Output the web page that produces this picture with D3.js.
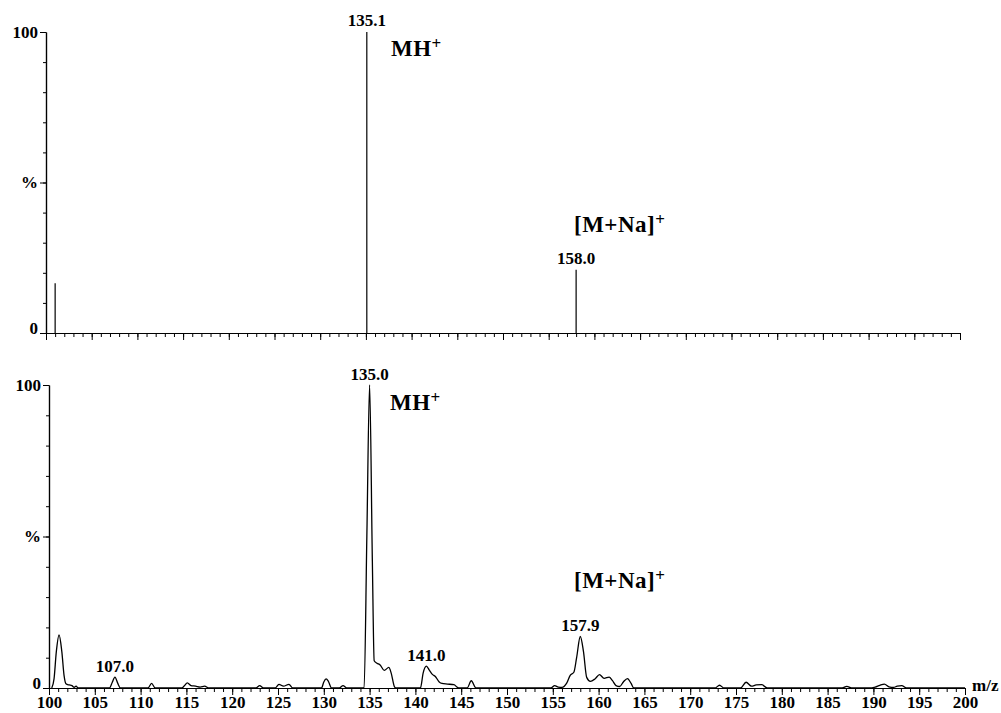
<!DOCTYPE html>
<html>
<head>
<meta charset="utf-8">
<script src="https://cdn.jsdelivr.net/npm/d3@7"></script>
<style>
  body { margin: 0; background: #fff; }
  svg text { font-family: "Liberation Serif", "Times New Roman", serif; fill: #000; }
</style>
</head>
<body>
<div id="wrapper"></div>
<script>
const width = 1001, height = 713;

// top panel: centroid (stick) spectrum
const stickMz  = [101.0, 135.1, 158.0];
const stickPct = [16.5, 100, 21];
const stickLabelMz   = [135.1, 158.0];
const stickLabelText = ["135.1", "158.0"];

// bottom panel: profile spectrum
const profileMz = [
  100.3, 100.55, 100.8, 101.1, 101.4, 101.65, 101.85, 102.2, 102.5, 102.75, 102.95, 103.2,
  106.6, 106.9, 107.2, 107.5, 107.8,
  110.8, 111.2, 111.6,
  114.5, 114.8, 115.1, 115.5, 116.0, 116.5, 117.0, 117.4,
  122.6, 123.0, 123.4,
  124.7, 125.1, 125.6, 126.2, 126.6,
  129.75, 130.0, 130.25, 130.5, 130.85,
  131.7, 132.1, 132.5,
  134.4, 134.7, 135.0, 135.3, 135.5, 135.8, 136.15, 136.6, 137.1, 137.35, 137.7, 137.85,
  140.55, 140.85, 141.2, 141.5, 141.85, 142.15, 142.6, 142.9, 143.5, 144.2, 144.6, 144.8,
  145.65, 146.1, 146.6,
  154.8, 155.2, 155.6, 156.0, 156.5, 156.9, 157.3, 157.6, 158.0, 158.35, 158.7, 159.1,
  159.6, 160.1, 160.6, 161.15, 161.5, 161.9, 162.3, 162.7, 163.15, 163.55, 163.85,
  172.7, 173.2, 173.7,
  175.5, 176.1, 176.7, 177.2, 177.8, 178.4,
  186.6, 187.1, 187.6,
  189.5, 190.2, 190.7, 191.2, 191.7, 192.2, 192.6, 193.1, 193.6,
  200.0
];
const profilePct = [
  0, 3, 12, 17.5, 12, 4, 1.4, 1.0, 0.8, 0.2, 0.6, 0,
  0, 1.8, 3.6, 1.6, 0,
  0, 1.5, 0,
  0, 0.8, 1.7, 0.8, 0.6, 0.3, 0.6, 0,
  0, 0.8, 0,
  0, 1.2, 0.6, 1.2, 0,
  0, 2.0, 3.0, 2.2, 0,
  0, 0.8, 0,
  0, 50, 100, 42, 9, 8.2, 7.6, 5.8, 6.8, 5, 0.5, 0,
  0, 5, 7.2, 6, 4.5, 3.9, 2, 1.5, 1.3, 1.1, 0.2, 0,
  0, 2.4, 0,
  0, 0.8, 0.3, 0.2, 1.5, 4.2, 5.2, 10, 17, 12, 3.5, 2.2,
  3, 4.4, 3.2, 3.6, 2.5, 0.8, 0.5, 2, 3.1, 1.5, 0,
  0, 0.9, 0,
  0, 1.9, 0.6, 1.0, 1.1, 0,
  0, 0.55, 0,
  0, 0.3, 0.9, 1.3, 0.4, 0.2, 0.6, 0.8, 0,
  0
];
const profileLabelMz   = [107.2, 135.0, 141.2, 158.0];
const profileLabelPct  = [3.6, 100, 7.2, 17];
const profileLabelText = ["107.0", "135.0", "141.0", "157.9"];

const xTop = d3.scaleLinear().domain([100, 200]).range([46, 960]),
      yTop = d3.scaleLinear().domain([0, 100]).range([333, 32]),
      xBot = d3.scaleLinear().domain([100, 200]).range([49, 965]),
      yBot = d3.scaleLinear().domain([0, 100]).range([688, 385]);

const svg = d3.select('#wrapper').append('svg')
    .attr('width', width)
    .attr('height', height);

function drawAxes(x, y, withLabels) {
    const y0 = y(0), x0 = x(100);

    // minor x ticks every 1, major every 5
    svg.append('g')
        .attr('transform', `translate(0,${y0})`)
        .call(d3.axisBottom(x).tickValues(d3.range(100, 201, 1)).tickSize(4).tickSizeOuter(0).tickFormat(''));
    const major = svg.append('g')
        .attr('transform', `translate(0,${y0})`)
        .call(d3.axisBottom(x).tickValues(d3.range(100, 201, 5)).tickSize(7).tickSizeOuter(0).tickPadding(1)
            .tickFormat(withLabels ? d3.format('d') : ''));
    major.selectAll('text')
        .style('font-size', '17px')
        .style('font-weight', 'bold');

    // y axis: minor every 10 %, labelled 0 / % / 100
    svg.append('g')
        .attr('transform', `translate(${x0},0)`)
        .call(d3.axisLeft(y).tickValues(d3.range(0, 101, 10)).tickSize(3).tickSizeOuter(0).tickFormat(''));
    const yl = svg.append('g')
        .attr('transform', `translate(${x0},0)`)
        .call(d3.axisLeft(y).tickValues([0, 50, 100]).tickSize(6).tickSizeOuter(0).tickPadding(2)
            .tickFormat(d => d === 50 ? '%' : d));
    yl.selectAll('text')
        .style('font-size', '17px')
        .style('font-weight', 'bold')
        .attr('dy', d => d === 0 ? '0.05em' : '0.32em');

    svg.selectAll('.domain').attr('stroke', '#000').attr('stroke-width', 1.2);
    svg.selectAll('.tick line').attr('stroke', '#000');
}

drawAxes(xTop, yTop, false);
drawAxes(xBot, yBot, true);

// top sticks
svg.append('g').selectAll('line')
    .data(stickMz)
    .join('line')
    .attr('x1', d => xTop(d)).attr('x2', d => xTop(d))
    .attr('y1', yTop(0))
    .attr('y2', (d, i) => yTop(stickPct[i]))
    .attr('stroke', '#000')
    .attr('stroke-width', 1.2);

svg.append('g').selectAll('text')
    .data(stickLabelMz)
    .join('text')
    .attr('x', d => xTop(d))
    .attr('y', d => yTop(stickPct[stickMz.indexOf(d)]) - 6)
    .attr('text-anchor', 'middle')
    .style('font-size', '17px')
    .style('font-weight', 'bold')
    .text((d, i) => stickLabelText[i]);

// bottom profile trace
const line = d3.line()
    .x(d => xBot(d[0]))
    .y(d => yBot(d[1]))
    .curve(d3.curveMonotoneX);

svg.append('path')
    .datum(profileMz.map((m, i) => [m, profilePct[i]]))
    .attr('d', line)
    .attr('fill', 'none')
    .attr('stroke', '#000')
    .attr('stroke-width', 1.3);

svg.append('g').selectAll('text')
    .data(profileLabelMz)
    .join('text')
    .attr('x', d => xBot(d))
    .attr('y', (d, i) => yBot(profileLabelPct[i]) - 5)
    .attr('text-anchor', 'middle')
    .style('font-size', '17px')
    .style('font-weight', 'bold')
    .text((d, i) => profileLabelText[i]);

// ion annotations
function ion(x, y, main) {
    const t = svg.append('text')
        .attr('x', x).attr('y', y)
        .style('font-size', '23px')
        .style('font-weight', 'bold')
        .style('letter-spacing', '0.5px');
    t.append('tspan').text(main);
    t.append('tspan').attr('dy', -7).style('font-size', '17px').text('+');
}
ion(391, 56, 'MH');
ion(574, 232, '[M+Na]');
ion(390, 410, 'MH');
ion(574, 588, '[M+Na]');

svg.append('text')
    .attr('x', 972).attr('y', 691)
    .style('font-size', '17px')
    .style('font-weight', 'bold')
    .text('m/z');
</script>
</body>
</html>
